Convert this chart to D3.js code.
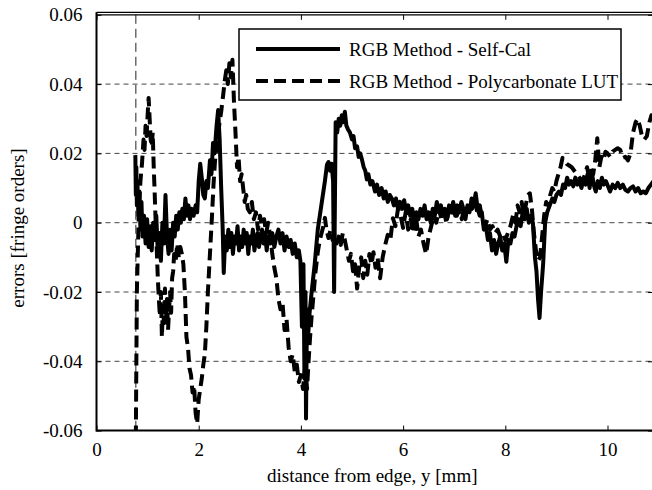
<!DOCTYPE html>
<html>
<head>
<meta charset="utf-8">
<script src="https://cdn.jsdelivr.net/npm/d3@7"></script>
<style>
  html, body { margin: 0; padding: 0; background: #fff; }
  svg { display: block; }
  text { font-family: "Liberation Serif", "Times New Roman", serif; fill: #000; }
</style>
</head>
<body>
<svg id="chart" width="652" height="490"></svg>
<script>
// ---------------- data ----------------
const xTicks = [0, 2, 4, 6, 8, 10];
const yTicks = [-0.06, -0.04, -0.02, 0, 0.02, 0.04, 0.06];
const yTickLabels = ["-0.06", "-0.04", "-0.02", "0", "0.02", "0.04", "0.06"];
const seriesNames = ["RGB Method - Self-Cal", "RGB Method - Polycarbonate LUT"];
const xTitle = "distance from edge, y [mm]";
const yTitle = "errors [fringe orders]";
const markerX = 0.77;

const selfCalX = [0.76,0.77,0.78,0.79,0.80,0.82,0.84,0.86,0.88,0.90,0.93,0.96,0.99,1.02,1.05,1.08,1.11,1.14,1.17,1.20,1.23,1.26,1.29,1.32,1.35,1.38,1.41,1.44,1.47,1.50,1.53,1.56,1.59,1.62,1.65,1.68,1.71,1.74,1.77,1.80,1.83,1.86,1.90,1.94,1.97,2.00,2.03,2.06,2.09,2.12,2.15,2.18,2.22,2.25,2.28,2.31,2.35,2.38,2.41,2.44,2.47,2.49,2.52,2.55,2.58,2.61,2.64,2.67,2.70,2.73,2.76,2.79,2.82,2.85,2.88,2.91,2.94,2.97,3.00,3.03,3.06,3.09,3.12,3.15,3.18,3.21,3.24,3.27,3.30,3.33,3.36,3.40,3.44,3.48,3.52,3.56,3.60,3.64,3.68,3.72,3.76,3.80,3.84,3.88,3.92,3.96,3.99,4.02,4.05,4.07,4.09,4.10,4.12,4.14,4.17,4.21,4.27,4.33,4.41,4.47,4.51,4.54,4.57,4.60,4.63,4.65,4.68,4.71,4.74,4.77,4.80,4.83,4.86,4.89,4.92,4.96,5.00,5.03,5.06,5.10,5.13,5.16,5.19,5.23,5.26,5.29,5.32,5.36,5.40,5.45,5.49,5.53,5.58,5.62,5.66,5.70,5.74,5.78,5.82,5.86,5.90,5.94,5.98,6.02,6.06,6.10,6.14,6.18,6.22,6.26,6.30,6.34,6.38,6.42,6.46,6.50,6.54,6.58,6.62,6.66,6.70,6.74,6.78,6.82,6.86,6.90,6.94,6.98,7.02,7.06,7.10,7.14,7.18,7.22,7.26,7.30,7.34,7.38,7.42,7.46,7.50,7.54,7.58,7.62,7.66,7.70,7.74,7.78,7.82,7.86,7.90,7.94,7.98,8.02,8.06,8.10,8.14,8.18,8.22,8.26,8.30,8.34,8.38,8.42,8.46,8.50,8.54,8.58,8.61,8.64,8.67,8.70,8.74,8.78,8.82,8.87,8.92,8.96,9.00,9.05,9.09,9.13,9.17,9.21,9.25,9.29,9.33,9.37,9.41,9.45,9.49,9.53,9.57,9.61,9.65,9.69,9.73,9.77,9.81,9.85,9.89,9.93,9.97,10.01,10.05,10.10,10.15,10.20,10.25,10.30,10.35,10.40,10.45,10.50,10.55,10.60,10.65,10.70,10.75,10.80,10.85,10.90];
const selfCalY = [0.0195,0.008,0.016,0.005,0.012,0.002,0.009,-0.002,0.006,-0.004,0.002,-0.006,0.001,-0.007,-0.001,-0.008,0.000,-0.005,0.002,-0.009,-0.003,-0.011,0.000,-0.006,0.008,-0.004,-0.009,-0.002,-0.008,0.000,-0.004,0.002,-0.002,0.003,0.000,0.004,0.001,0.007,0.002,0.005,0.001,0.004,0.002,0.005,0.003,0.012,0.017,0.013,0.008,0.007,0.012,0.010,0.018,0.014,0.023,0.020,0.028,0.0325,0.024,0.010,-0.002,-0.0145,-0.004,-0.008,-0.002,-0.007,-0.003,-0.009,-0.004,-0.006,-0.001,-0.008,-0.004,-0.007,-0.002,-0.006,-0.003,-0.009,-0.004,-0.006,-0.002,-0.008,-0.005,-0.003,-0.007,-0.004,-0.002,-0.006,-0.003,-0.008,-0.004,-0.006,-0.003,-0.007,-0.004,-0.002,-0.006,-0.003,-0.008,-0.004,-0.007,-0.005,-0.009,-0.006,-0.010,-0.008,-0.011,-0.030,-0.012,-0.045,-0.020,-0.0565,-0.025,-0.033,-0.026,-0.020,-0.012,-0.002,0.006,0.012,0.0167,0.0175,0.015,0.017,0.012,-0.020,0.029,0.026,0.030,0.028,0.031,0.029,0.032,0.028,0.027,0.026,0.024,0.025,0.0215,0.022,0.019,0.020,0.0185,0.016,0.015,0.0125,0.014,0.011,0.012,0.009,0.011,0.008,0.010,0.007,0.009,0.006,0.008,0.007,0.005,0.007,0.004,0.006,0.004,0.0065,0.003,0.005,0.002,0.004,0.000,0.003,0.001,0.004,0.002,0.005,0.001,0.003,0.000,0.004,0.002,0.006,0.003,0.005,0.002,0.004,0.001,0.005,0.003,0.006,0.002,0.005,0.003,0.006,0.004,0.001,0.005,0.003,0.007,0.005,0.0085,0.004,0.002,0.003,-0.002,-0.001,-0.005,-0.003,-0.008,-0.005,-0.009,-0.006,-0.004,-0.008,-0.006,-0.0113,-0.005,-0.006,-0.003,-0.004,-0.001,0.001,-0.001,0.003,0.001,0.004,0.000,0.002,0.000,-0.010,-0.014,-0.022,-0.0275,-0.020,-0.012,0.000,0.003,0.005,0.007,0.006,0.008,0.009,0.008,0.011,0.010,0.013,0.011,0.012,0.0105,0.013,0.011,0.012,0.010,0.0125,0.011,0.014,0.010,0.015,0.011,0.009,0.012,0.010,0.013,0.011,0.012,0.0105,0.009,0.011,0.010,0.0115,0.010,0.011,0.0095,0.009,0.010,0.0105,0.009,0.010,0.0085,0.009,0.0085,0.010,0.011,0.012];

const polyX = [0.77,0.78,0.79,0.81,0.83,0.86,0.89,0.92,0.94,0.96,0.98,1.00,1.02,1.04,1.06,1.08,1.10,1.12,1.14,1.16,1.18,1.20,1.22,1.24,1.26,1.28,1.30,1.32,1.34,1.36,1.38,1.40,1.42,1.44,1.46,1.48,1.50,1.52,1.55,1.58,1.61,1.64,1.67,1.70,1.73,1.76,1.79,1.82,1.85,1.88,1.91,1.94,1.97,2.00,2.03,2.06,2.09,2.12,2.15,2.18,2.22,2.26,2.29,2.32,2.36,2.40,2.44,2.48,2.51,2.54,2.57,2.60,2.63,2.66,2.69,2.72,2.75,2.78,2.81,2.84,2.87,2.90,2.93,2.96,3.00,3.04,3.08,3.12,3.16,3.20,3.24,3.28,3.32,3.36,3.40,3.44,3.48,3.52,3.56,3.60,3.64,3.68,3.72,3.76,3.80,3.84,3.88,3.92,3.96,4.00,4.04,4.08,4.12,4.15,4.18,4.21,4.24,4.28,4.33,4.37,4.41,4.44,4.47,4.50,4.54,4.58,4.62,4.66,4.70,4.74,4.78,4.82,4.86,4.90,4.94,4.98,5.02,5.06,5.10,5.14,5.18,5.22,5.26,5.30,5.34,5.38,5.42,5.46,5.50,5.55,5.60,5.65,5.70,5.75,5.80,5.85,5.90,5.95,6.00,6.05,6.10,6.15,6.20,6.25,6.30,6.35,6.40,6.45,6.50,6.55,6.60,6.65,6.70,6.75,6.80,6.85,6.90,6.95,7.00,7.05,7.10,7.15,7.20,7.25,7.30,7.35,7.40,7.45,7.50,7.55,7.60,7.65,7.70,7.75,7.80,7.85,7.90,7.95,8.00,8.05,8.10,8.15,8.20,8.24,8.28,8.32,8.36,8.40,8.44,8.48,8.52,8.56,8.60,8.64,8.68,8.72,8.76,8.80,8.84,8.88,8.92,8.96,9.00,9.04,9.08,9.12,9.16,9.20,9.25,9.30,9.35,9.40,9.45,9.50,9.55,9.60,9.64,9.68,9.72,9.76,9.80,9.84,9.88,9.92,9.96,10.00,10.05,10.10,10.15,10.20,10.25,10.30,10.35,10.40,10.45,10.50,10.55,10.59,10.63,10.67,10.72,10.77,10.82,10.86,10.90];
const polyY = [-0.062,-0.040,-0.020,-0.008,0.004,0.012,0.017,0.024,0.021,0.028,0.025,0.031,0.036,0.030,0.024,0.022,0.026,0.016,0.008,-0.001,-0.008,-0.016,-0.022,-0.027,-0.020,-0.033,-0.024,-0.029,-0.019,-0.028,-0.022,-0.031,-0.025,-0.020,-0.026,-0.016,-0.014,-0.009,-0.011,-0.006,-0.010,-0.007,-0.009,-0.012,-0.020,-0.033,-0.036,-0.042,-0.044,-0.049,-0.047,-0.055,-0.058,-0.051,-0.048,-0.045,-0.041,-0.038,-0.030,-0.020,-0.009,0.002,0.011,0.018,0.023,0.028,0.032,0.037,0.041,0.044,0.040,0.046,0.042,0.047,0.035,0.026,0.016,0.019,0.012,0.014,0.010,0.006,0.008,0.004,0.003,0.006,0.001,0.003,-0.002,0.002,-0.001,0.001,-0.003,0.000,-0.004,-0.009,-0.013,-0.016,-0.022,-0.025,-0.023,-0.031,-0.028,-0.036,-0.040,-0.038,-0.043,-0.041,-0.046,-0.044,-0.048,-0.042,-0.048,-0.040,-0.033,-0.027,-0.022,-0.015,-0.0085,-0.005,-0.0027,-0.001,0.0014,-0.002,-0.0044,-0.002,-0.005,-0.0035,-0.006,-0.004,-0.0064,-0.003,-0.005,-0.008,-0.011,-0.009,-0.014,-0.012,-0.019,-0.013,-0.010,-0.016,-0.011,-0.015,-0.009,-0.012,-0.0085,-0.013,-0.010,-0.016,-0.010,-0.0064,-0.0035,-0.005,0.0013,-0.001,0.004,0.002,-0.0015,0.003,-0.002,0.001,-0.003,0.002,-0.004,-0.002,-0.006,-0.009,-0.004,-0.001,0.002,0.000,0.004,0.001,0.003,0.000,0.004,0.002,0.005,0.002,0.004,0.001,0.005,0.003,0.006,0.004,0.007,0.003,0.005,0.001,-0.001,0.001,-0.002,-0.001,-0.003,-0.002,-0.004,-0.003,-0.005,-0.003,-0.001,0.002,0.000,0.005,0.003,0.006,0.002,0.005,0.008,0.0085,0.004,-0.003,-0.008,-0.011,-0.010,-0.004,0.002,0.006,0.005,0.008,0.010,0.009,0.012,0.014,0.016,0.0187,0.018,0.017,0.0165,0.016,0.015,0.014,0.013,0.012,0.0135,0.016,0.013,0.015,0.014,0.018,0.0244,0.016,0.019,0.018,0.0205,0.020,0.019,0.0205,0.021,0.0215,0.021,0.0187,0.019,0.018,0.020,0.026,0.029,0.030,0.028,0.0253,0.024,0.025,0.029,0.031,0.030];

// ---------------- layout ----------------
const svg = d3.select("#chart");
const L = 96.5, R = 654, T = 14.8, B = 430.6;
const xs = d3.scaleLinear().domain([0, (R - L) / 51.1]).range([L, R]);
const ys = d3.scaleLinear().domain([-0.06, 0.06]).range([B, T]);

svg.append("defs").append("clipPath").attr("id", "plotclip")
  .append("rect").attr("x", L).attr("y", T).attr("width", R - L).attr("height", B - T);

// gridlines
svg.append("g").selectAll("line").data(yTicks.filter(v => v > -0.06 && v < 0.06)).join("line")
  .attr("x1", L).attr("x2", R).attr("y1", d => ys(d)).attr("y2", d => ys(d))
  .attr("stroke", "#444").attr("stroke-width", 1).attr("stroke-dasharray", "5,4");

// thin vertical dashed marker
svg.append("line").attr("x1", xs(markerX)).attr("x2", xs(markerX)).attr("y1", T).attr("y2", B)
  .attr("stroke", "#222").attr("stroke-width", 1).attr("stroke-dasharray", "9,5");

// data lines
const lineGen = d3.line().x(d => xs(d[0])).y(d => ys(d[1]));
const plot = svg.append("g").attr("clip-path", "url(#plotclip)");
plot.append("path").datum(polyX.map((v, i) => [v, polyY[i]]))
  .attr("d", lineGen).attr("fill", "none").attr("stroke", "#000")
  .attr("stroke-width", 4).attr("stroke-dasharray", "12,6").attr("stroke-linejoin", "round");
plot.append("path").datum(selfCalX.map((v, i) => [v, selfCalY[i]]))
  .attr("d", lineGen).attr("fill", "none").attr("stroke", "#000")
  .attr("stroke-width", 4).attr("stroke-linejoin", "round");

// axes
const fmt = d => yTickLabels[yTicks.indexOf(d)];
const gBottom = svg.append("g").attr("transform", `translate(0,${B})`)
  .call(d3.axisBottom(xs).tickValues(xTicks).tickSize(-5).tickPadding(12).tickFormat(d3.format("d")));
const gTop = svg.append("g").attr("transform", `translate(0,${T})`)
  .call(d3.axisTop(xs).tickValues(xTicks).tickSize(-5).tickFormat(""));
const gLeft = svg.append("g").attr("transform", `translate(${L},0)`)
  .call(d3.axisLeft(ys).tickValues(yTicks).tickSize(-5).tickPadding(14).tickFormat(fmt));
const gRight = svg.append("g").attr("transform", `translate(${R},0)`)
  .call(d3.axisRight(ys).tickValues(yTicks).tickSize(-6).tickFormat(""));

[gBottom, gTop, gLeft, gRight].forEach(g => {
  g.select(".domain").remove();
  g.selectAll(".tick line").attr("stroke", "#000").attr("stroke-width", 1);
  g.selectAll("text").attr("font-family", "Liberation Serif").attr("font-size", 19).attr("fill", "#000");
});

// frame lines
svg.append("line").attr("x1", L).attr("x2", R).attr("y1", B).attr("y2", B).attr("stroke", "#000").attr("stroke-width", 2);
svg.append("line").attr("x1", L).attr("x2", L).attr("y1", T - 2.5).attr("y2", B + 1).attr("stroke", "#000").attr("stroke-width", 2);
svg.append("line").attr("x1", L).attr("x2", R).attr("y1", T).attr("y2", T).attr("stroke", "#000").attr("stroke-width", 1.2);
svg.append("line").attr("x1", L).attr("x2", R).attr("y1", T - 2.5).attr("y2", T - 2.5).attr("stroke", "#000").attr("stroke-width", 1.2);

// titles
svg.append("text").attr("x", (L + 652) / 2 - 2).attr("y", 482).attr("text-anchor", "middle")
  .attr("font-size", 19).text(xTitle);
svg.append("text").attr("transform", "translate(24,228) rotate(-90)").attr("text-anchor", "middle")
  .attr("font-size", 19).text(yTitle);

// legend
const lg = svg.append("g");
lg.append("rect").attr("x", 239).attr("y", 29).attr("width", 382).attr("height", 71)
  .attr("fill", "#fff").attr("stroke", "#000").attr("stroke-width", 1.5);
const rows = [{ name: seriesNames[0], dash: null, yy: 49 }, { name: seriesNames[1], dash: "12,6", yy: 81 }];
rows.forEach(r => {
  const l = lg.append("line").attr("x1", 256).attr("x2", 340).attr("y1", r.yy).attr("y2", r.yy)
    .attr("stroke", "#000").attr("stroke-width", 4);
  if (r.dash) l.attr("stroke-dasharray", r.dash);
  lg.append("text").attr("x", 349).attr("y", r.yy).attr("dy", "0.35em").attr("font-size", 19).text(r.name);
});
</script>
</body>
</html>
